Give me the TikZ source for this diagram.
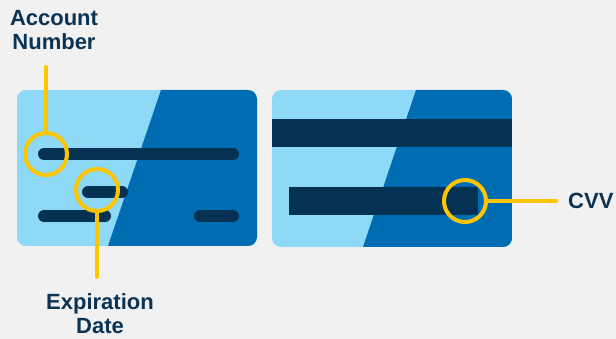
\documentclass[tikz,border=0pt]{standalone}
\usepackage{fontspec}
\setmainfont{Liberation Sans}
\definecolor{bg}{HTML}{F1F1F1}
\definecolor{lightb}{HTML}{8ED8F8}
\definecolor{darkb}{HTML}{006DB3}
\definecolor{navy}{HTML}{053152}
\definecolor{txt}{HTML}{0B3354}
\definecolor{gold}{HTML}{FFC600}
\begin{document}
\begin{tikzpicture}[x=1pt,y=-1pt,
  bar/.style={navy,line width=12pt,line cap=round},
  ring/.style={circle,draw=gold,line width=4pt,minimum size=42pt,inner sep=0pt},
  lead/.style={gold,line width=4pt,line cap=round},
  lbl/.style={text=txt,font=\fontsize{22}{24}\selectfont\bfseries,align=center,inner sep=0pt}]
\fill[bg] (0,0) rectangle (616,339);
\useasboundingbox (0,0) rectangle (616,339);
% front card
\begin{scope}
\clip[rounded corners=9pt] (17,90) rectangle (257,246);
\fill[lightb] (17,90) rectangle (257,246);
\fill[darkb] (161,90) -- (257,90) -- (257,246) -- (108,246) -- cycle;
\end{scope}
\draw[bar] (44,154) -- (233,154);
\draw[bar] (88,192) -- (122,192);
\draw[bar] (44,216) -- (105,216);
\draw[bar] (200,216) -- (233,216);
% back card
\begin{scope}
\clip[rounded corners=9pt] (272,90) rectangle (512,247);
\fill[lightb] (272,90) rectangle (512,247);
\fill[darkb] (416,90) -- (512,90) -- (512,247) -- (363,247) -- cycle;
\fill[navy] (272,119) rectangle (512,147);
\end{scope}
\fill[navy] (289,187) rectangle (478,215);
% rings
\node[ring] (acc) at (46,154) {};
\node[ring] (exp) at (97,190) {};
\node[ring] (cvv) at (465,201) {};
% labels
\node[lbl] (accl) at (54,30) {Account\\Number};
\node[lbl] (expl) at (100,314) {Expiration\\Date};
\node[lbl,anchor=west] (cvvl) at (568,201) {CVV};
\coordinate (acct) at (46,67);
\coordinate (expt) at (97,277);
\coordinate (cvvt) at (556,201);
\draw[lead] (acct) -- (acc.north);
\draw[lead] (exp.south) -- (expt);
\draw[lead] (cvv.east) -- (cvvt);
\end{tikzpicture}
\end{document}
